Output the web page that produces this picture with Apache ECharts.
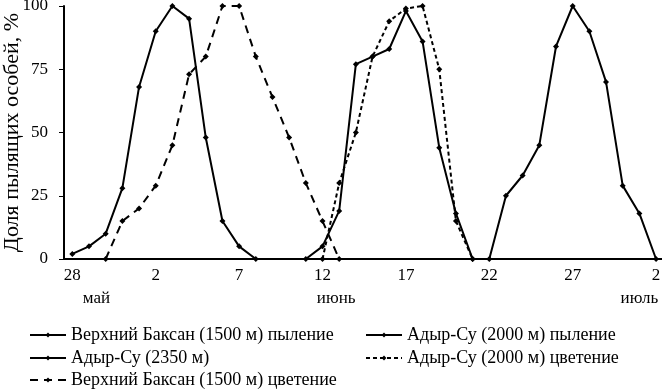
<!DOCTYPE html>
<html>
<head>
<meta charset="utf-8">
<script src="https://cdn.jsdelivr.net/npm/echarts@6/dist/echarts.min.js"></script>
<style>
  html, body { margin: 0; padding: 0; background: #fff; }
  #chart { width: 662px; height: 389px; }
</style>
</head>
<body>
<div id="chart"></div>
<script>
// 28 мая - 2 июля, по дням
const days = [
  '28', '29', '30', '31',
  '1', '2', '3', '4', '5', '6', '7', '8', '9', '10', '11', '12', '13', '14', '15',
  '16', '17', '18', '19', '20', '21', '22', '23', '24', '25', '26', '27', '28', '29', '30',
  '1', '2'
]

// подписи месяцев под днями
const monthIndex = [1, 16, 34]
const monthNames = ['май', 'июнь', 'июль']

const yTicks = [0, 25, 50, 75, 100]

const names = [
  'Верхний Баксан (1500 м) пыление',
  'Адыр-Су (2000 м) пыление',
  'Адыр-Су (2350 м)',
  'Адыр-Су (2000 м) цветение',
  'Верхний Баксан (1500 м) цветение'
]

const baksanDust = [2, 5, 10, 28, 68, 90, 100, 95, 48, 15, 5, 0,
  null, null, null, null, null, null, null, null, null, null, null, null,
  null, null, null, null, null, null, null, null, null, null, null, null]

const baksanBloom = [null, null, 0, 15, 20, 29, 45, 73, 80, 100, 100, 80,
  64, 48, 30, 15, 0, null, null, null, null, null, null, null,
  null, null, null, null, null, null, null, null, null, null, null, null]

const adyr2000Dust = [null, null, null, null, null, null, null, null, null, null, null, null,
  null, null, 0, 5, 19, 77, 80, 83, 98, 86, 44, 18,
  0, null, null, null, null, null, null, null, null, null, null, null]

const adyr2000Bloom = [null, null, null, null, null, null, null, null, null, null, null, null,
  null, null, null, 0, 30, 50, 80, 94, 99, 100, 75, 15,
  0, null, null, null, null, null, null, null, null, null, null, null]

const adyr2350 = [null, null, null, null, null, null, null, null, null, null, null, null,
  null, null, null, null, null, null, null, null, null, null, null, null,
  null, 0, 25, 33, 45, 84, 100, 90, 70, 29, 18, 0]

const font = 'Liberation Serif'

const chart = echarts.init(document.getElementById('chart'), null, { renderer: 'canvas' })

const line = (name, data, type) => ({
  name,
  type: 'line',
  data,
  symbol: 'diamond',
  symbolSize: 6,
  color: '#000',
  lineStyle: { color: '#000', width: 2, type },
  itemStyle: { color: '#000' },
  animation: false
})

// легенда: две колонки, по одному элементу на компонент
const legendItem = (name, left, top) => ({
  data: [name],
  left,
  top,
  padding: 0,
  itemWidth: 36,
  itemHeight: 6,
  textStyle: { fontFamily: font, fontSize: 18, color: '#000', lineHeight: 14 }
})

const option = {
  backgroundColor: '#fff',
  textStyle: { fontFamily: font, color: '#000' },
  grid: { left: 64, right: -2.4, top: 6, bottom: 130, outerBoundsMode: 'none' },
  legend: [
    legendItem(names[0], 29, 326),
    legendItem(names[1], 365, 326),
    legendItem(names[2], 29, 349),
    legendItem(names[3], 365, 349),
    legendItem(names[4], 29, 371)
  ],
  xAxis: [
    {
      type: 'category',
      data: days,
      boundaryGap: true,
      axisLine: { lineStyle: { color: '#000', width: 2 } },
      axisTick: { interval: 4, length: 5, lineStyle: { color: '#000', width: 1 } },
      axisLabel: { interval: 4, margin: 8, fontFamily: font, fontSize: 17, color: '#000' },
      splitLine: { show: false }
    },
    {
      // месяцы - второй ряд подписей
      type: 'category',
      data: days,
      position: 'bottom',
      boundaryGap: true,
      axisLine: { show: false },
      axisTick: { show: false },
      axisLabel: {
        interval: 0,
        margin: 31,
        fontFamily: font,
        fontSize: 17,
        color: '#000',
        formatter: (value, index) => {
          const k = monthIndex.indexOf(index)
          return k < 0 ? '' : '{m' + k + '|' + monthNames[k] + '}'
        },
        rich: {
          m0: { fontFamily: font, fontSize: 17, padding: [0, 0, 0, 15] },
          m1: { fontFamily: font, fontSize: 17, padding: [0, 6, 0, 0] },
          m2: { fontFamily: font, fontSize: 17 }
        }
      },
      splitLine: { show: false }
    }
  ],
  yAxis: {
    type: 'value',
    min: yTicks[0],
    max: yTicks[yTicks.length - 1],
    interval: 25,
    name: 'Доля пылящих особей, %',
    nameLocation: 'middle',
    nameRotate: 90,
    nameGap: 41,
    nameMoveOverlap: false,
    nameTextStyle: { fontFamily: font, fontSize: 22, color: '#000' },
    axisLine: { show: true, lineStyle: { color: '#000', width: 2 } },
    axisTick: { show: true, length: 5, lineStyle: { color: '#000', width: 1 } },
    axisLabel: { margin: 16, fontFamily: font, fontSize: 17, color: '#000' },
    splitLine: { show: false }
  },
  series: [
    line(names[0], baksanDust, 'solid'),
    line(names[1], adyr2000Dust, 'solid'),
    line(names[2], adyr2350, 'solid'),
    line(names[3], adyr2000Bloom, [4, 3]),
    line(names[4], baksanBloom, [8, 6])
  ]
}

chart.setOption(option)
</script>
</body>
</html>
